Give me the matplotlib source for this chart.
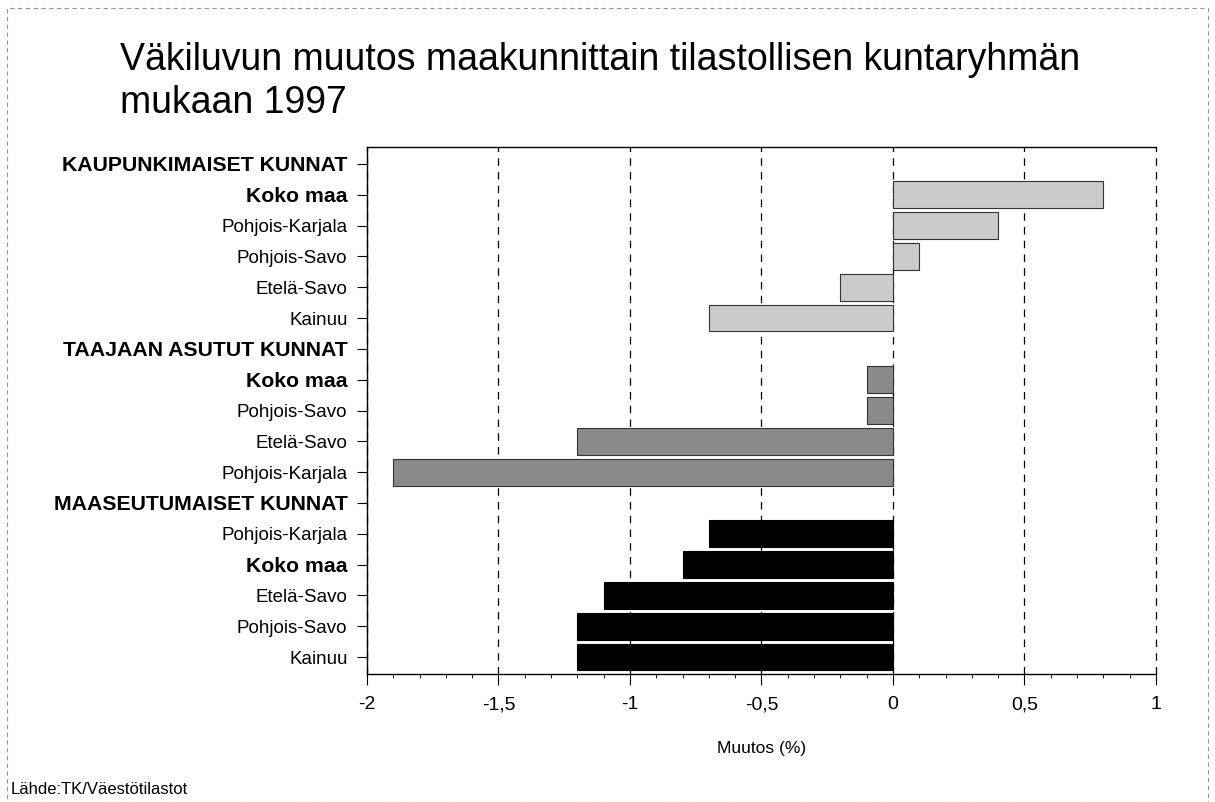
import matplotlib
matplotlib.use("Agg")
import matplotlib.pyplot as plt
from matplotlib.ticker import MultipleLocator, FixedLocator
from matplotlib.patches import Rectangle

plt.rcParams['font.family'] = ['Liberation Sans', 'DejaVu Sans']

categories = [
    "KAUPUNKIMAISET KUNNAT", "Koko maa", "Pohjois-Karjala", "Pohjois-Savo", "Etelä-Savo", "Kainuu",
    "TAAJAAN ASUTUT KUNNAT", "Koko maa", "Pohjois-Savo", "Etelä-Savo", "Pohjois-Karjala",
    "MAASEUTUMAISET KUNNAT", "Pohjois-Karjala", "Koko maa", "Etelä-Savo", "Pohjois-Savo", "Kainuu",
]
values = [None, 0.8, 0.4, 0.1, -0.2, -0.7,
          None, -0.1, -0.1, -1.2, -1.9,
          None, -0.7, -0.8, -1.1, -1.2, -1.2]
groups = [0, 0, 0, 0, 0, 0,
          1, 1, 1, 1, 1,
          2, 2, 2, 2, 2, 2]
bold_labels = {"KAUPUNKIMAISET KUNNAT", "TAAJAAN ASUTUT KUNNAT", "MAASEUTUMAISET KUNNAT", "Koko maa"}
group_colors = ["#cbcbcb", "#8a8a8a", "#000000"]

xticks = [-2, -1.5, -1, -0.5, 0, 0.5, 1]
xticklabels = ["-2", "-1,5", "-1", "-0,5", "0", "0,5", "1"]

title = "Väkiluvun muutos maakunnittain tilastollisen kuntaryhmän\nmukaan 1997"
xlabel = "Muutos (%)"
source = "Lähde:TK/Väestötilastot"

fig = plt.figure(figsize=(12.15, 8.02), dpi=100)
ax = fig.add_axes([0.302, 0.1596, 0.6494, 0.6571])

for x in xticks:
    ax.axvline(x, color="black", lw=0.9, ls=(0, (6, 5)), zorder=0, clip_on=False)

ypos = list(range(len(categories)))
for y, v, g in zip(ypos, values, groups):
    if v is None:
        continue
    ax.barh(y, v, height=0.87, color=group_colors[g], edgecolor="#333333" if g < 2 else "black",
            linewidth=0.8, zorder=2)

ax.set_ylim(len(categories) - 0.45, -0.55)
ax.set_xlim(-2, 1)
ax.set_yticks(ypos)
ax.set_yticklabels(categories, fontsize=13.5)
for lbl in ax.get_yticklabels():
    if lbl.get_text() in bold_labels:
        lbl.set_fontweight("bold")
        lbl.set_fontsize(15.3)

ax.xaxis.set_major_locator(FixedLocator(xticks))
ax.set_xticklabels(xticklabels, fontsize=14)
ax.xaxis.set_minor_locator(MultipleLocator(0.1))
ax.tick_params(axis="x", which="major", length=8, width=0.8, pad=8, direction="out")
ax.tick_params(axis="x", which="minor", length=3, width=0.6, direction="out")
ax.tick_params(axis="y", length=7, width=0.8, pad=7)

ax.spines["right"].set_visible(False)
for s in ["top", "left", "bottom"]:
    ax.spines[s].set_linewidth(1.0)

ax.set_xlabel(xlabel, fontsize=12.5, labelpad=20)

fig.text(0.099, 0.948, title, fontsize=27, ha="left", va="top", linespacing=1.25)
fig.text(0.009, 0.006, source, fontsize=12, ha="left", va="bottom")

fig.add_artist(Rectangle((0.006, 0.0), 0.988, 0.99, transform=fig.transFigure, fill=False,
                         edgecolor="#999999", lw=0.8, ls=(0, (4, 3))))

fig.savefig("out.png", dpi=100)
